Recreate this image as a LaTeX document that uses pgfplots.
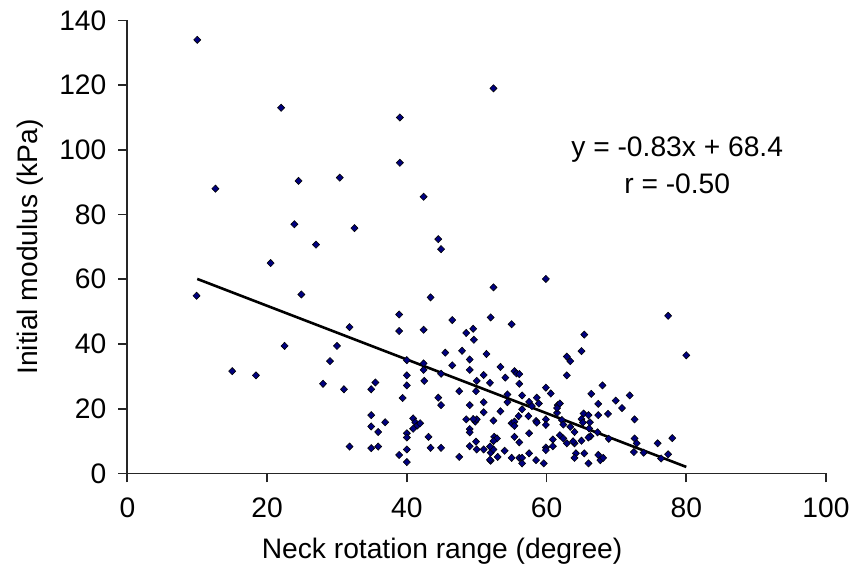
\documentclass[border=0pt]{standalone}
\usepackage{pgfplots}
\pgfplotsset{compat=1.18}
\usepackage{fontspec}
\setmainfont{Liberation Sans}
\definecolor{navy}{RGB}{0,0,128}
\newcommand{\chartfont}{\fontsize{14.1pt}{16pt}\selectfont}
\begin{document}
\begin{tikzpicture}
\begin{axis}[
  scale only axis, width=349.3pt, height=226.5pt,
  xmin=0, xmax=100, ymin=0, ymax=140,
  axis lines*=left,
  axis line style={line width=0.9pt, black!85},
  xtick={0,20,...,100}, ytick={0,20,...,140},
  tick align=outside, major tick length=4.5pt,
  tick style={line width=0.9pt, black!85},
  /pgf/number format/assume math mode=true,
  ticklabel style={font=\chartfont},
  xticklabel style={yshift=-4pt},
  yticklabel style={xshift=-2.5pt},
  clip=false,
]
\addplot[only marks, mark=diamond*, mark size=1.8pt,
  mark options={xscale=1.3, fill=navy, draw=black, line width=0.3pt}] coordinates {
(10,134) (22,113) (39,110) (52.4,119) (39,96) (12.6,88) (24.5,90.4) (30.4,91.4)
(42.4,85.5) (23.9,77) (32.5,75.8) (44.5,72.4) (44.9,69.3) (27.0,70.7) (20.5,65.0)
(59.9,60.1) (24.9,55.3) (9.9,54.9) (43.4,54.4) (52.4,57.5) (38.9,49.1) (38.9,44.0)
(31.8,45.2) (46.5,47.4) (52.0,48.2) (55.0,46.1) (77.4,48.7) (42.4,44.4) (48.5,43.4)
(49.5,44.7) (49.6,41.3) (65.4,42.9) (22.5,39.4) (30.0,39.4) (29.0,34.7) (65.0,37.8)
(80.0,36.5) (45.5,37.3) (47.9,37.9) (51.4,36.9) (49.0,35.2) (62.9,36.1) (63.4,34.7)
(40.0,35.0) (42.4,34.0) (42.4,32.0) (44.9,30.8) (46.5,33.4) (49.0,32.0) (42.5,28.6)
(40.0,30.3) (40.0,27.2) (39.4,23.3) (53.4,32.9) (55.4,31.6) (55.7,30.9) (56.1,30.7)
(51.0,30.4) (54.1,29.6) (62.9,30.3) (50.0,28.6) (51.9,28.0) (56.1,27.7) (68.0,27.2)
(71.9,24.1) (47.5,25.4) (49.9,25.4) (54.4,24.4) (56.5,24.1) (59.9,26.5) (60.6,24.7)
(66.4,24.6) (44.5,23.4) (44.9,21.1) (49.0,21.1) (51.0,22.0) (54.4,22.0) (57.5,22.1)
(58.6,23.4) (58.9,21.6) (57.9,20.8) (56.5,19.8) (61.6,21.1) (61.9,21.6) (67.4,21.5)
(69.9,22.5) (70.8,20.2) (51.0,18.9) (53.4,19.2) (56.0,17.7) (57.4,17.7) (61.5,18.7)
(65.3,18.5) (66.0,18.0) (67.4,18.0) (68.8,18.4) (40.9,17.0) (41.2,15.8) (41.5,14.8)
(40.9,13.8) (41.9,15.5) (48.5,16.7) (49.8,16.0) (50.0,16.7) (52.4,16.3) (55.0,15.5)
(55.4,16.0) (58.5,16.2) (58.6,15.7) (62.2,16.5) (62.4,15.1) (63.4,14.4) (65.0,16.8)
(65.2,15.7) (66.1,13.9) (72.6,16.7) (49.0,13.7) (49.0,12.7) (57.5,12.4) (59.9,16.7)
(59.9,15.0) (40.0,12.4) (40.0,11.1) (43.1,11.3) (52.5,11.3) (52.9,10.8) (52.4,10.0)
(55.4,11.3) (56.1,9.6) (61.9,11.8) (62.4,10.8) (64.0,12.8) (62.9,9.3) (64.0,9.3)
(65.0,10.1) (66.3,11.5) (66.0,11.1) (68.9,10.7) (72.6,10.8) (72.9,9.3) (75.9,9.3)
(78.0,10.9) (40.0,7.4) (43.4,7.9) (44.9,7.9) (49.0,8.4) (49.9,9.8) (50.0,7.4)
(51.0,7.4) (52.0,6.4) (52.4,7.4) (53.0,5.1) (52.0,3.9) (54.0,7.0) (55.0,4.8)
(56.1,4.8) (56.5,4.8) (56.5,3.1) (57.5,6.2) (58.5,4.1) (59.6,3.1) (59.9,8.0)
(59.9,7.2) (60.9,8.4) (60.9,10.5) (64.2,6.2) (64.0,4.8) (65.4,6.2) (66.0,3.1)
(67.4,5.7) (67.7,4.1) (68.1,4.8) (73.9,6.4) (72.5,6.6) (76.4,4.6) (77.4,5.9)
(47.5,5.1) (40.0,3.5) (38.9,5.7) (15.0,31.6) (18.4,30.3) (28.0,27.7) (31.0,26.0)
(34.9,26.0) (35.5,28.1) (34.9,18.0) (34.9,14.5) (36.9,15.8) (35.9,12.8) (31.8,8.3)
(34.9,7.8) (35.9,8.3) (66.2,15.8) (67.3,12.7) (61.5,20.2) (63.8,9.9) (51.9,8.3)
(51.9,4.2) (55.4,14.7) (49.5,16.8)
};
\addplot[black, line width=1.3pt] coordinates {(10,60.1) (80,2.0)};
\node[font=\chartfont, anchor=base] at (axis cs:78.7,97.9) {y = -0.83x + 68.4};
\node[font=\chartfont, anchor=base] at (axis cs:78.7,86.6) {r = -0.50};
\coordinate (sw) at (axis cs:0,0);
\coordinate (ne) at (axis cs:100,140);
\coordinate (ym) at (axis cs:0,70);
\coordinate (xm) at (axis cs:45.05,0);
\end{axis}
\node[font=\chartfont, rotate=90] at ([xshift=-48.7pt]ym) {Initial modulus (kPa)};
\node[font=\chartfont] at ([yshift=-38.9pt]xm) {Neck rotation range (degree)};
\pgfresetboundingbox
\path ([shift={(-63.7pt,-50.3pt)}]sw) rectangle ([shift={(13pt,10.2pt)}]ne);
\end{tikzpicture}
\end{document}
